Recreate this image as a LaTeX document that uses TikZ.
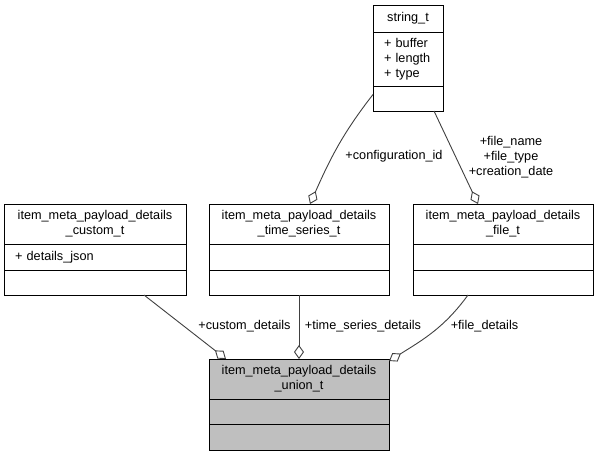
\documentclass[tikz,border=0pt]{standalone}
\usepackage{fontspec}
\setmainfont{Liberation Sans}
\usetikzlibrary{arrows.meta}
\tikzstyle{part}=[draw, outer sep=0pt, inner sep=0pt, anchor=north west, minimum height=25pt]
\tikzstyle{head}=[part, align=center, minimum height=40pt]
\tikzstyle{attr}=[part, align=left, inner xsep=11pt, minimum height=26pt]
\tikzstyle{member}=[color=edgegray, -{Diamond[length=14pt, width=10pt, fill=white]}]
\tikzstyle{lbl}=[inner sep=0pt, align=center]
\definecolor{edgegray}{rgb}{0.25, 0.25, 0.25}
\definecolor{uniongray}{rgb}{0.75, 0.75, 0.75}

\begin{document}
\begin{tikzpicture}[x=1pt, y=1pt, line width=0.9pt, font=\fontsize{12.7}{15}\selectfont]
    \useasboundingbox (0,0) rectangle (599,-456);

    % string_t on top
    \node[head, minimum width=70pt, minimum height=27pt] (str-t) at (373,-5) {string\_t};
    \node[attr, text width=48pt, minimum height=54pt] (str-a) at (str-t.south west) {+ buffer\\+ length\\+ type};
    \node[part, minimum width=70pt] (str-m) at (str-a.south west) {};

    % the three detail structs, using a loop
    \foreach \n/\x/\w/\tw/\t/\a in {cu/4/182/160/\_custom\_t/+ details\_json,
        ts/209/180/158/\_time\_series\_t/{}, fi/413/180/158/\_file\_t/{}}{
      \node[head, minimum width=\w pt] (\n-t) at (\x,-204) {item\_meta\_payload\_details\\\t};
      \node[attr, text width=\tw pt] (\n-a) at (\n-t.south west) {\a};
      \node[part, minimum width=\w pt] (\n-m) at (\n-a.south west) {};
    }

    % the union, grey
    \node[head, fill=uniongray, minimum width=180pt] (un-t) at (209,-359) {item\_meta\_payload\_details\\\_union\_t};
    \node[part, fill=uniongray, minimum width=180pt] (un-a) at (un-t.south west) {};
    \node[part, fill=uniongray, minimum width=180pt, minimum height=26pt] (un-m) at (un-a.south west) {};

    % members of string_t
    \draw[member] ([yshift=4pt]str-m.west) to[out=-128, in=66] ([xshift=101pt]ts-t.north west);
    \draw[member] ([xshift=-9pt]str-m.south east) -- ([xshift=65pt]fi-t.north west);
    \node[lbl] (l-conf) at (394,-156) {+configuration\_id};
    \node[lbl] (l-file) at (511,-157) {+file\_name\\+file\_type\\+creation\_date};

    % members of the union
    \draw[member] ([xshift=-42pt]cu-m.south east) -- ([xshift=17pt]un-t.north west);
    \draw[member] (ts-m.south) -- (un-t.north);
    \draw[member] ([xshift=55pt]fi-m.south west) to[out=-126, in=32] ([yshift=-2pt]un-t.north east);
    \node[lbl] (l-cu) at (244.5,-326) {+custom\_details};
    \node[lbl] (l-ts) at (363,-326) {+time\_series\_details};
    \node[lbl] (l-fi) at (484.5,-326) {+file\_details};
\end{tikzpicture}
\end{document}
